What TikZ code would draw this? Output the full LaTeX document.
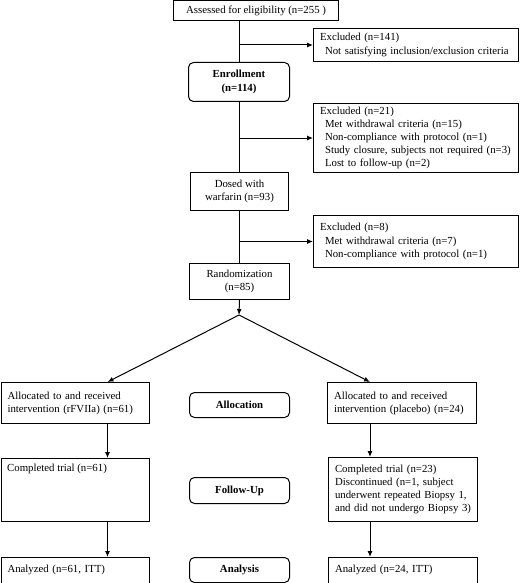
\documentclass[tikz,border=0pt]{standalone}
\usepackage{fontspec}
\setmainfont{Liberation Serif}
\usetikzlibrary{arrows.meta}
\begin{document}
\begin{tikzpicture}[x=1pt,y=-1pt,
  every node/.style={font=\fontsize{10.8}{13.2}\selectfont},
  box/.style={draw, line width=1pt, inner ysep=0pt, inner xsep=6.5pt, anchor=north west, align=left},
  cbox/.style={draw, line width=1pt, inner sep=0pt, anchor=north west, align=center},
  rbox/.style={cbox, rounded corners=5pt, font=\fontsize{10.8}{13.2}\selectfont\bfseries},
  conn/.style={line width=1pt},
  arr/.style={line width=1pt, -{Latex[length=6pt,width=5pt]}}
]
\useasboundingbox (0,0) rectangle (520,583);
\node[cbox, minimum width=165pt, minimum height=19.5pt] (assess) at (173,0.5) {Assessed for eligibility (n=255 )};
\node[box, minimum width=205pt, text width=192pt, minimum height=33pt] (ex1) at (313,28) {Excluded (n=141)\\\hspace*{5pt}Not satisfying inclusion/exclusion criteria};
\node[rbox, minimum width=101pt, minimum height=39pt] (enroll) at (188,62) {Enrollment\\(n=114)};
\node[box, minimum width=205pt, text width=192pt, minimum height=69pt] (ex2) at (313,103) {Excluded (n=21)\\\hspace*{5pt}Met withdrawal criteria (n=15)\\\hspace*{5pt}Non-compliance with protocol (n=1)\\\hspace*{5pt}Study closure, subjects not required (n=3)\\\hspace*{5pt}Lost to follow-up (n=2)};
\node[cbox, minimum width=98pt, minimum height=38pt] (dosed) at (190,172) {Dosed with\\warfarin (n=93)};
\node[box, minimum width=205pt, text width=192pt, minimum height=52pt] (ex3) at (313,215) {Excluded (n=8)\\\hspace*{5pt}Met withdrawal criteria (n=7)\\\hspace*{5pt}Non-compliance with protocol (n=1)};
\node[cbox, minimum width=100pt, minimum height=36pt] (rand) at (189,263) {Randomization\\(n=85)};
\coordinate (split) at (239,315);
\coordinate (colL) at (107.5,0);
\coordinate (colR) at (370,0);
\node[box, minimum width=148pt, text width=135pt, minimum height=41pt] (allocL) at (0.5,382) {Allocated to and received\\intervention (rFVIIa) (n=61)};
\node[rbox, minimum width=100pt, minimum height=25pt] (alloc) at (189,392) {Allocation};
\node[box, minimum width=149pt, text width=136pt, minimum height=41pt] (allocR) at (327,382) {Allocated to and received\\intervention (placebo) (n=24)};
\node[draw, line width=1pt, anchor=north west, minimum width=148pt, minimum height=63pt, inner sep=0pt] (compL) at (0.5,458) {};
\node[anchor=north west, align=left, inner sep=0pt] (compLt) at ([xshift=6.5pt,yshift=-6pt]compL.north west) {Completed trial (n=61)};
\node[rbox, minimum width=100pt, minimum height=26pt] (fu) at (189,477) {Follow-Up};
\node[box, minimum width=149pt, text width=136pt, minimum height=64pt] (compR) at (328,457) {Completed trial (n=23)\\Discontinued (n=1, subject\\underwent repeated Biopsy 1,\\and did not undergo Biopsy 3)};
\node[box, minimum width=148pt, text width=135pt, minimum height=25.5pt] (anaL) at (0.5,557) {Analyzed (n=61, ITT)};
\node[rbox, minimum width=100pt, minimum height=25pt] (ana) at (189,557) {Analysis};
\node[box, minimum width=149pt, text width=136pt, minimum height=25.5pt] (anaR) at (328,557) {Analyzed (n=24, ITT)};
% connectors
\draw[conn] (assess.south -| enroll.north) -- (enroll.north);
\draw[arr] (enroll.north |- ex1.west) -- (ex1.west);
\draw[conn] (enroll.south) -- (enroll.south |- dosed.north);
\draw[arr] (enroll.south |- ex2.west) -- (ex2.west);
\draw[conn] (dosed.south) -- (dosed.south |- rand.north);
\draw[arr] (dosed.south |- ex3.west) -- (ex3.west);
\draw[arr] (rand.south) -- (split);
\draw[arr] (split) -- (allocL.north -| colL);
\draw[arr] (split) -- (allocR.north -| colR);
\draw[arr] (allocL.south -| colL) -- (compL.north -| colL);
\draw[arr] (compL.south -| colL) -- (anaL.north -| colL);
\draw[arr] (allocR.south -| colR) -- (compR.north -| colR);
\draw[arr] (compR.south -| colR) -- (anaR.north -| colR);
\end{tikzpicture}
\end{document}
